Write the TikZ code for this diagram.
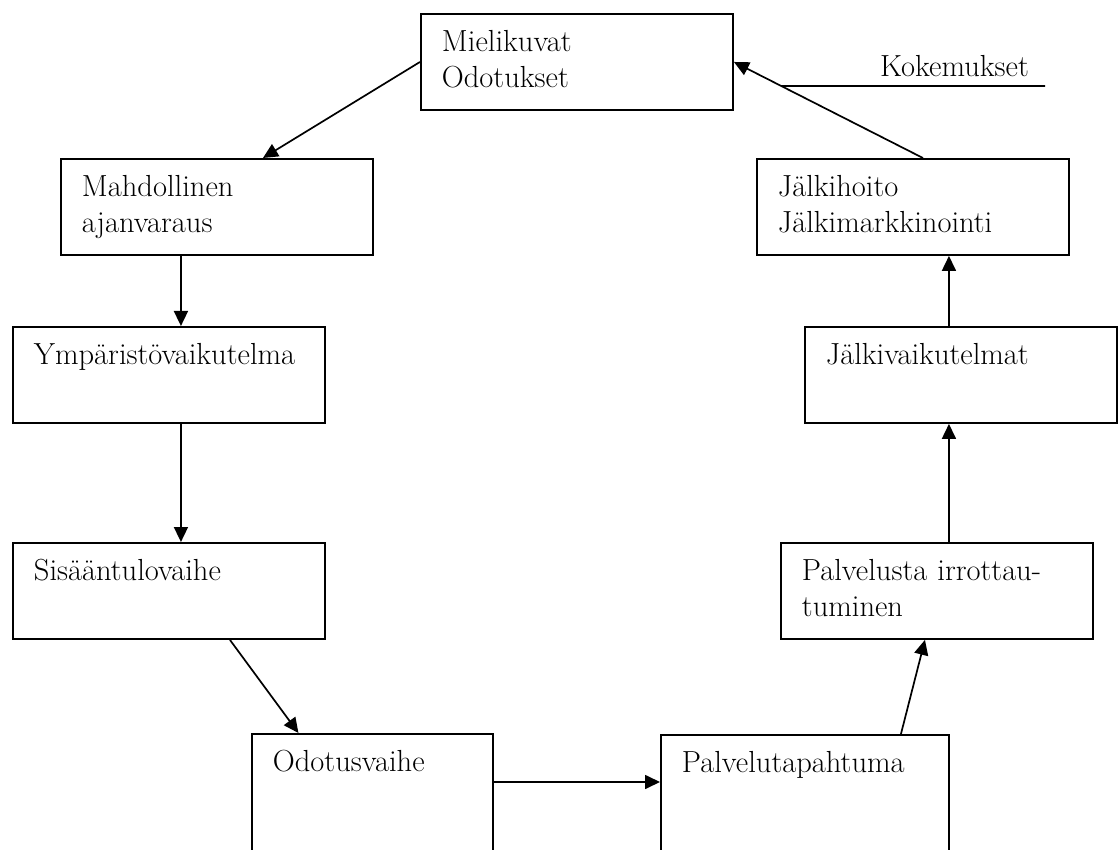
\documentclass[tikz,border=0pt]{standalone}
\usetikzlibrary{arrows.meta,calc}

\begin{document}
\begin{tikzpicture}[x=1pt,y=-1pt]
\tikzstyle{every node}+=[inner sep=0pt]
\tikzstyle{txt}=[font=\fontsize{30.5}{36}\selectfont]
\tikzstyle{stage}=[txt, draw, line width=1.9pt, anchor=north west, align=left, text width=270pt, inner xsep=21pt, text height=38pt, text depth=58pt]
\tikzstyle{flow}=[line width=1.7pt, -{Triangle[length=15pt,width=14pt]}]
\useasboundingbox (0,0) rectangle (1120,850);
\clip (0,0) rectangle (1120,850);
% left column
\node [stage] (mie) at (420,13) {Mielikuvat\\Odotukset};
\node [stage] (mah) at (60,158) {Mahdollinen\\ajanvaraus};
\node [stage] (ymp) at (12,326) {Ymp\"arist\"ovaikutelma};
\node [stage] (sis) at (12,542) {Sis\"a\"antulovaihe};
% bottom
\node [stage, text width=199pt, text depth=150pt] (odo) at (251,733) {Odotusvaihe};
\node [stage, text width=246pt, text depth=150pt] (pal) at (660,734) {Palvelutapahtuma};
% right column
\node [stage] (pst) at (780,542) {Palvelusta irrottau-\\tuminen};
\node [stage] (jv) at (804,326) {J\"alkivaikutelmat};
\node [stage] (jh) at (756,158) {J\"alkihoito\\J\"alkimarkkinointi};
\coordinate (kokend) at (1045,86);
\node [txt, anchor=base east] (kok) at ([xshift=-16pt,yshift=9pt]kokend) {Kokemukset};
% arrows
\draw [flow] (mie.west) -- ([xshift=46pt]mah.north);
\draw [flow] ([xshift=-36pt]mah.south) -- ([xshift=12pt]ymp.north);
\draw [flow] ([xshift=12pt]ymp.south) -- ([xshift=12pt]sis.north);
\draw [flow] ([xshift=61pt]sis.south) -- ([xshift=-74pt]odo.north);
\draw [flow] ([yshift=-49pt]odo.north east) -- ([yshift=-48pt]pal.north west);
\draw [flow] ([xshift=96pt]pal.north) -- ([xshift=-12pt]pst.south);
\draw [flow] ([xshift=12pt]pst.north) -- ([xshift=-12pt]jv.south);
\draw [flow] ([xshift=-12pt]jv.north) -- ([xshift=36pt]jh.south);
\draw [flow] ([xshift=10pt]jh.north) -- (mie.east);
\draw [line width=1.7pt] ($([xshift=10pt]jh.north)!0.75!(mie.east)$) -- (kokend);
\end{tikzpicture}
\end{document}
